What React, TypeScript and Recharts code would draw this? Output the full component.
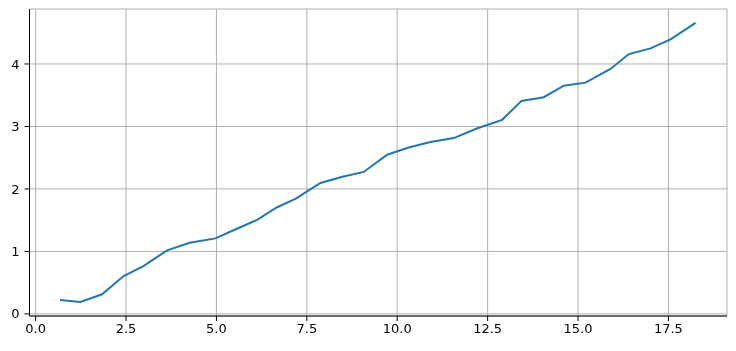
import { CartesianGrid, Line, LineChart, XAxis, YAxis } from "recharts";

const xs = [
  0.675, 1.237, 1.837, 2.434, 2.979, 3.635, 4.26, 4.971, 5.566, 6.125,
  6.678, 7.184, 7.876, 8.484, 9.073, 9.721, 10.318, 10.918, 11.563, 12.218,
  12.902, 13.436, 14.053, 14.606, 15.206, 15.898, 16.404, 17.005, 17.558, 18.249,
];
const ys = [
  0.223, 0.191, 0.314, 0.606, 0.766, 1.016, 1.139, 1.208, 1.362, 1.506,
  1.707, 1.841, 2.096, 2.194, 2.272, 2.548, 2.664, 2.75, 2.814, 2.971,
  3.106, 3.409, 3.468, 3.653, 3.701, 3.92, 4.159, 4.25, 4.394, 4.659,
];
const xTicks = [0, 2.5, 5, 7.5, 10, 12.5, 15, 17.5];
const yTicks = [0, 1, 2, 3, 4];

const data = xs.map((x, i) => ({ x, y: ys[i] }));

const tickStyle = { fontFamily: "DejaVu Sans", fontSize: 13, fill: "#000" };

export default function App() {
  return (
    <div style={{ position: "fixed", left: 0, top: 0 }}>
      <LineChart
        width={736}
        height={351}
        data={data}
        margin={{ top: 9, right: 9, bottom: 0, left: 0 }}
      >
        <CartesianGrid stroke="#b0b0b0" strokeWidth={1} />
        <XAxis
          dataKey="x"
          type="number"
          domain={[-0.17, 19.12]}
          ticks={xTicks}
          tickFormatter={(v: number) => v.toFixed(1)}
          height={35}
          tickSize={5}
          tickMargin={3}
          stroke="#000"
          tick={tickStyle}
          allowDataOverflow
        />
        <XAxis
          xAxisId="top"
          orientation="top"
          dataKey="x"
          type="number"
          domain={[-0.17, 19.12]}
          height={0}
          tick={false}
          tickLine={false}
          stroke="#000"
        />
        <YAxis
          type="number"
          domain={[-0.034, 4.88]}
          ticks={yTicks}
          width={29.5}
          tickSize={5}
          tickMargin={5}
          stroke="#000"
          tick={tickStyle}
          allowDataOverflow
        />
        <YAxis
          yAxisId="right"
          orientation="right"
          domain={[-0.034, 4.88]}
          width={0}
          tick={false}
          tickLine={false}
          stroke="#000"
        />
        <Line
          type="linear"
          dataKey="y"
          stroke="#1f77b4"
          strokeWidth={2}
          dot={false}
          isAnimationActive={false}
        />
      </LineChart>
    </div>
  );
}
